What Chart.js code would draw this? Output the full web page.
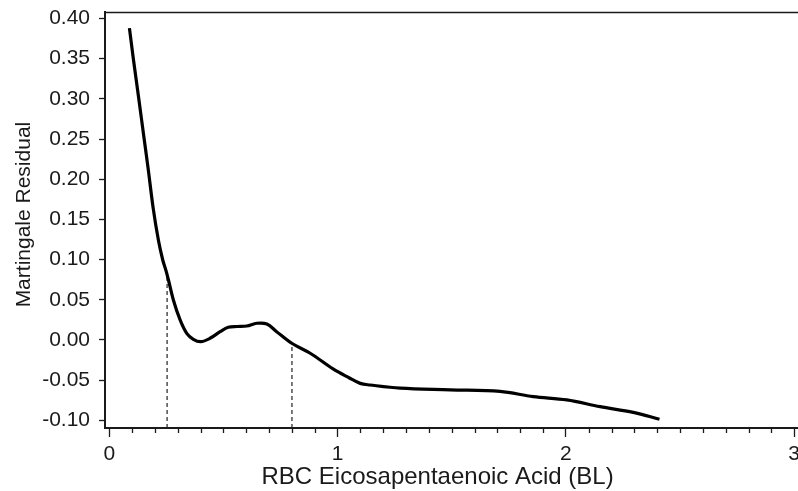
<!DOCTYPE html>
<html>
<head>
<meta charset="utf-8">
<script src="https://cdn.jsdelivr.net/npm/chart.js@4/dist/chart.umd.min.js"></script>
<style>
  html, body { margin: 0; padding: 0; background: #fff; overflow: hidden; width: 798px; height: 491px; }
  #wrap { width: 830px; height: 491px; position: relative; }
</style>
</head>
<body>
<div id="wrap"><canvas id="c" width="830" height="491"></canvas></div>
<script>
// ---- data ----
const curveX = [0.088, 0.106, 0.130, 0.153, 0.171, 0.192, 0.215, 0.234, 0.2485, 0.259, 0.2805, 0.310, 0.339, 0.368, 0.4005, 0.441, 0.485, 0.521, 0.56, 0.602, 0.646, 0.690, 0.733, 0.799, 0.880, 0.980, 1.05, 1.099, 1.142, 1.274, 1.493, 1.712, 1.857, 2.004, 2.150, 2.295, 2.410];
const curveY = [0.388, 0.348, 0.298, 0.249, 0.211, 0.164, 0.124, 0.0995, 0.086, 0.0746, 0.0498, 0.0249, 0.0083, 0.0009, -0.0021, 0.0021, 0.0103, 0.0158, 0.0168, 0.0174, 0.0208, 0.0199, 0.0103, -0.0041, -0.0165, -0.036, -0.047, -0.054, -0.056, -0.060, -0.062, -0.064, -0.0705, -0.0746, -0.083, -0.090, -0.0986];
const cutX = [0.253, 0.80];
const cutY = [0.08, -0.004];
const xTicks = [0, 1, 2, 3];
const yTicks = [-0.10, -0.05, 0.00, 0.05, 0.10, 0.15, 0.20, 0.25, 0.30, 0.35, 0.40];
const xTitle = 'RBC Eicosapentaenoic Acid (BL)';
const yTitle = 'Martingale Residual';

const X_MIN = -0.019, X_MAX = 3.1, Y_MIN = -0.1095, Y_MAX = 0.408;
// where the axis titles are centred, in axis units
const X_TITLE_AT = 1.438, Y_TITLE_AT = 0.156;

const minorX = [];
for (let i = 1; i <= 31; i++) if (i % 10 !== 0) minorX.push(i / 10);

const FONT = "'Liberation Sans', Arial, sans-serif";
const INK = '#1a1a1a';

const curve = curveX.map((x, i) => ({ x, y: curveY[i] }));
const dashSets = cutX.map((x, i) => ({
  data: [{ x, y: Y_MIN }, { x, y: cutY[i] }],
  borderColor: '#222', borderWidth: 1.2, borderDash: [4, 3], pointRadius: 0, fill: false, tension: 0
}));

const frame = {
  id: 'frame',
  afterDraw(chart) {
    const { ctx, chartArea: a, scales } = chart;
    const xs = scales.x, ys = scales.y;
    ctx.save();
    ctx.strokeStyle = INK;
    ctx.lineWidth = 1.5;
    ctx.beginPath();
    ctx.moveTo(a.left, a.top + 0.5);
    ctx.lineTo(a.right, a.top + 0.5);
    ctx.lineTo(a.right, a.bottom);
    ctx.stroke();
    ctx.lineWidth = 1.3;
    ctx.beginPath();
    minorX.forEach(v => {
      const px = Math.round(xs.getPixelForValue(v)) + 0.5;
      if (px <= a.right) { ctx.moveTo(px, a.bottom); ctx.lineTo(px, a.bottom + 5); }
    });
    ctx.stroke();
    // axis titles
    ctx.fillStyle = INK;
    ctx.textAlign = 'center';
    ctx.textBaseline = 'middle';
    ctx.font = '24px ' + FONT;
    ctx.fillText(xTitle, xs.getPixelForValue(X_TITLE_AT), xs.bottom - 14);
    ctx.translate(ys.left + 24, ys.getPixelForValue(Y_TITLE_AT));
    ctx.rotate(-Math.PI / 2);
    ctx.font = '21px ' + FONT;
    ctx.fillText(yTitle, 0, 0);
    ctx.restore();
  }
};

new Chart(document.getElementById('c'), {
  type: 'line',
  data: {
    datasets: [
      { data: curve, borderColor: '#000', borderWidth: 3.2, pointRadius: 0, fill: false, tension: 0.35 },
      ...dashSets
    ]
  },
  options: {
    responsive: false,
    animation: false,
    events: [],
    layout: { padding: { left: 0, right: 13, top: 12, bottom: 0 } },
    plugins: { legend: { display: false }, tooltip: { enabled: false } },
    scales: {
      x: {
        type: 'linear', min: X_MIN, max: X_MAX,
        afterBuildTicks: s => { s.ticks = xTicks.map(v => ({ value: v })); },
        afterFit: s => { s.height = 63; s.paddingLeft = 0; s.paddingRight = 0; },
        border: { color: INK, width: 2 },
        grid: { drawOnChartArea: false, tickLength: 9, tickWidth: 1.3, tickColor: INK },
        ticks: { color: INK, font: { family: FONT, size: 21 }, padding: 5, maxRotation: 0, callback: v => String(v) },
        title: { display: false, text: xTitle }
      },
      y: {
        type: 'linear', min: Y_MIN, max: Y_MAX,
        afterBuildTicks: s => { s.ticks = yTicks.map(v => ({ value: v })); },
        afterFit: s => { s.width = 105; s.paddingTop = 0; s.paddingBottom = 0; },
        border: { color: INK, width: 2 },
        grid: { drawOnChartArea: false, tickLength: 6, tickWidth: 1.3, tickColor: INK },
        ticks: { color: INK, font: { family: FONT, size: 21 }, padding: 9, callback: v => v.toFixed(2) },
        title: { display: false, text: yTitle }
      }
    }
  },
  plugins: [frame]
});
</script>
</body>
</html>
